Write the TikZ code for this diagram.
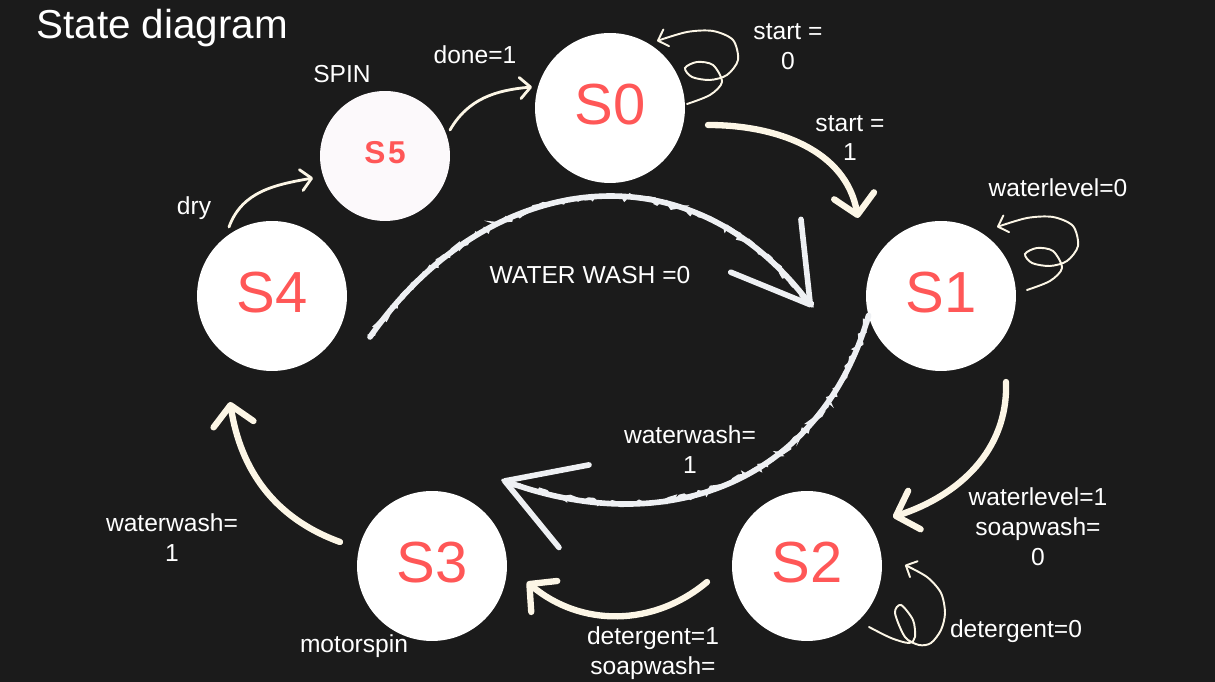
\documentclass[tikz,border=0pt]{standalone}
\usepackage{fontspec}
\setmainfont{Liberation Sans}
\usetikzlibrary{arrows.meta,calc,decorations.pathmorphing}

\definecolor{bgdark}{HTML}{1B1B1B}
\definecolor{statered}{HTML}{FF5757}
\definecolor{cream}{HTML}{FCF6E6}
\definecolor{chalkwhite}{HTML}{EEF0F3}
\definecolor{spinfill}{HTML}{FCF9FB}

\tikzset{
  state/.style={circle, fill=white, minimum size=3cm, inner sep=0pt, outer sep=0pt,
    text=statered, text height=24pt, text depth=5pt, font=\fontsize{33}{36}\selectfont},
  lbl/.style={text=white, align=center, inner sep=0pt, font=\fontsize{14}{17}\selectfont},
  brush/.style={draw=cream, line width=3.6pt, line cap=round,
    -{Straight Barb[length=11pt, width=23pt, round]}},
  thinbrush/.style={draw=cream, line width=1.6pt, line cap=round,
    -{Straight Barb[length=6pt, width=12pt, round]}},
  curl/.style={draw=cream, line width=1.1pt, line cap=round,
    -{Straight Barb[length=5pt, width=10pt, round]}},
  chalk/.style={draw=chalkwhite, line width=3.2pt, line cap=round,
    -{Straight Barb[length=42pt, width=50pt, round]}},
  chalkgrain/.style={draw=chalkwhite, line width=1.4pt, decorate,
    decoration={random steps, segment length=2pt, amplitude=1.8pt}}
}

\begin{document}
\begin{tikzpicture}[x=0.02cm, y=0.02cm]
  \fill[bgdark] (0,0) rectangle (1215,682);
  \useasboundingbox (0,0) rectangle (1215,682);

  % title
  \node[anchor=base west, inner sep=0pt, text=white, font=\fontsize{23}{26}\selectfont] (title) at (36,643) {State diagram};

  % states
  \node[state] (s0) at (610,574) {S0};
  \node[state] (s1) at (941,386) {S1};
  \node[state] (s2) at (807,116) {S2};
  \node[state] (s3) at (432,116) {S3};
  \node[state] (s4) at (272,386) {S4};
  \node[state, fill=spinfill, minimum size=2.6cm, text height=13pt, text depth=4.7pt,
    font=\fontsize{18}{20}\selectfont\bfseries] (s5) at (385,526) {S\kern1.5pt 5};

  % labels
  \node[lbl] (spin) at (342,608) {SPIN};
  \node[lbl] (done) at (475,627) {done=1};
  \node[lbl] (st0) at (788,635) {start =\\0};
  \node[lbl] (st1) at (850,544) {start =\\1};
  \node[lbl] (wl0) at (1058,494) {waterlevel=0};
  \node[lbl] (ww0) at (590,407) {WATER WASH =0};
  \node[lbl] (ww1) at (690,232) {waterwash=\\1};
  \node[lbl] (wl1) at (1038,155) {waterlevel=1\\soapwash=\\0};
  \node[lbl] (ww1b) at (172,144) {waterwash=\\1};
  \node[lbl] (mspin) at (354,36) {motorspin};
  \node[lbl] (det1) at (653,29) {detergent=1\\soapwash=};
  \node[lbl] (det0) at (1016,51) {detergent=0};
  \node[lbl] (dry) at (194,474) {dry};

  % transitions
  \draw[thinbrush] ($(s5)+(65,26)$) to[out=60, in=185] ($(s0)+(-78,21)$);
  \draw[brush] ($(s0)+(98,-17)$) to[out=0, in=100] ($(s1)+(-83,78)$);
  \draw[brush] ($(s1)+(65,-86)$) to[out=-88, in=18] ($(s2)+(86,49)$);
  \draw[brush] ($(s2)+(-100,-16)$) to[out=-140, in=-40] ($(s3)+(95,-16)$);
  \draw[brush] ($(s3)+(-92,24)$) to[out=160, in=-81] ($(s4)+(-42,-106)$);
  \draw[thinbrush] ($(s4)+(-43,69)$) to[out=70, in=190] ($(s5)+(-72,-22)$);

  % self loops
  \foreach \st/\dx/\dy in {s0/0/0, s1/9/2}
    \draw[curl, shift={($(\st)+(\dx,\dy)$)}] plot[smooth] coordinates {
      (77,4) (100,13) (112,26) (103,43) (87,46) (75,40) (82,31) (100,28)
      (117,33) (128,48) (123,68) (103,77) (77,76) (47,67)};
  \draw[curl, shift={(s2)}] plot[smooth] coordinates {
    (62,-61) (84,-72) (102,-77) (108,-71) (106,-54) (94,-39) (88,-47) (98,-71)
    (112,-79) (124,-77) (134,-64) (138,-47) (134,-27) (120,-11) (98,1)};

  % water wash arcs
  \draw[chalk] ($(s4)+(98,-41)$) .. controls +(55:205) and +(127:205) .. ($(s1)+(-129,-11)$);
  \draw[chalkgrain] ($(s4)+(98,-41)$) .. controls +(55:205) and +(127:205) .. ($(s1)+(-129,-11)$);
  \draw[chalk] (s1.195) .. controls +(254:170) and +(-20:180) .. ($(s3)+(70,86)$);
  \draw[chalkgrain] (s1.195) .. controls +(254:170) and +(-20:180) .. ($(s3)+(70,86)$);
\end{tikzpicture}
\end{document}
